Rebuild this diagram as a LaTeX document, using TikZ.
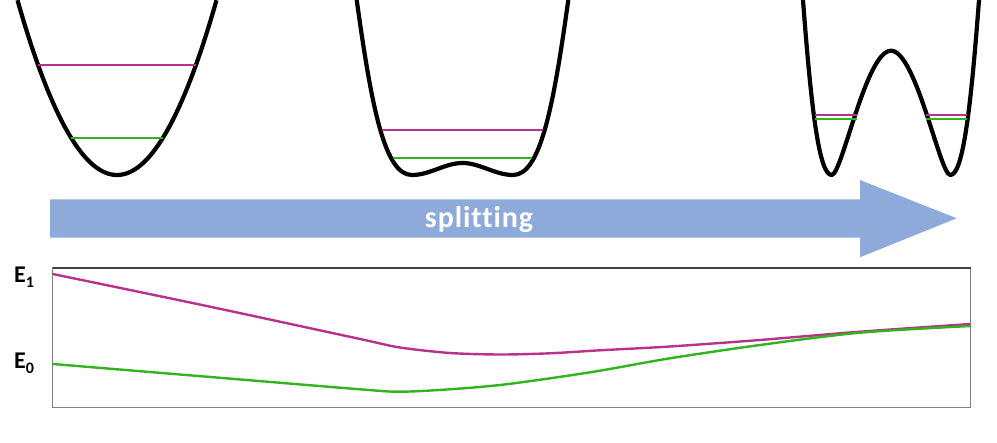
\documentclass[tikz,border=0pt]{standalone}
\usepackage{fontspec}
\setmainfont{Carlito}[Ligatures=NoCommon]
\definecolor{lvlmag}{RGB}{184,50,140}
\definecolor{lvlgrn}{RGB}{50,180,30}
\definecolor{arrblue}{RGB}{142,170,219}
\begin{document}
\begin{tikzpicture}[x=1pt,y=-1pt,
  well/.style={line width=4.2pt, black, line join=round},
  emag/.style={lvlmag, line width=2.2pt},
  egrn/.style={lvlgrn, line width=2.2pt},
  curvemag/.style={lvlmag, line width=2.4pt, line join=round},
  curvegrn/.style={lvlgrn, line width=2.4pt, line join=round},
  axisbox/.style={draw=black!50, line width=1.4pt},
  elabel/.style={font=\bfseries\fontsize{24}{24}\selectfont, inner sep=0pt, anchor=base west},
  splitlabel/.style={font=\bfseries\fontsize{30}{30}\selectfont\addfontfeatures{LetterSpace=3}, text=white, inner sep=0pt, anchor=base}]
\useasboundingbox (0,0) rectangle (997,443);

% --- harmonic well ---
\draw[well] plot[domain=17.5:216.5, samples=120] (\x, {175-0.01765*(\x-117)^2});
\draw[emag] (38,65) -- (196,65);
\draw[egrn] (71,138) -- (163,138);

% --- shallow double well ---
\draw[well] (356.7,0) .. controls (372,110) and (385,175) .. (412,175)
  .. controls (430,175) and (445,163) .. (462.5,163)
  .. controls (480,163) and (495,175) .. (513,175)
  .. controls (540,175) and (553,110) .. (568.3,0);
\draw[emag] (382,130) -- (543,130);
\draw[egrn] (393,158) -- (532,158);

% --- deep double well ---
\draw[well] (803,0) .. controls (812,120) and (820,175) .. (831.7,175)
  .. controls (842,175) and (866,50.7) .. (891,50.7)
  .. controls (916,50.7) and (940,175) .. (950.3,175)
  .. controls (962,175) and (970,120) .. (979,0);
\draw[emag] (815,115.3) -- (856.7,115.3);
\draw[egrn] (815,118.8) -- (856.7,118.8);
\draw[emag] (926,115.3) -- (967,115.3);
\draw[egrn] (926,118.8) -- (967,118.8);

% --- arrow ---
\fill[arrblue] (50,199.3) -- (860,199.3) -- (860,180) -- (956.7,218.3)
  -- (860,257.3) -- (860,237.7) -- (50,237.7) -- cycle;
\node[splitlabel] (split) at (479,227.3) {splitting};

% --- energy plot ---
\draw[axisbox] (52.7,268) rectangle (970.7,407.7);
\draw[black!75, line width=1.4pt] (52.7,268) -- (970.7,268);
\draw[curvemag] plot[smooth] coordinates {
 (52.7,274) (206.7,306) (360,339) (400,347.5) (450,353) (500,354.5)
 (550,353.3) (600,350.3) (670,346.5) (760,340) (860,331.7) (970.7,324)};
\draw[curvegrn] plot[smooth] coordinates {
 (52.7,364) (206.7,376.7) (360,389.3) (400,391.7) (450,389.3) (500,385)
 (550,378.3) (600,370.7) (670,358.3) (760,345) (860,332.7) (970.7,326)};
\node[elabel] (e1) at (14,282.3) {E\raisebox{-5.5pt}{\fontsize{16}{16}\selectfont 1}};
\node[elabel] (e0) at (14,368.3) {E\raisebox{-5.5pt}{\fontsize{16}{16}\selectfont 0}};
\end{tikzpicture}
\end{document}
